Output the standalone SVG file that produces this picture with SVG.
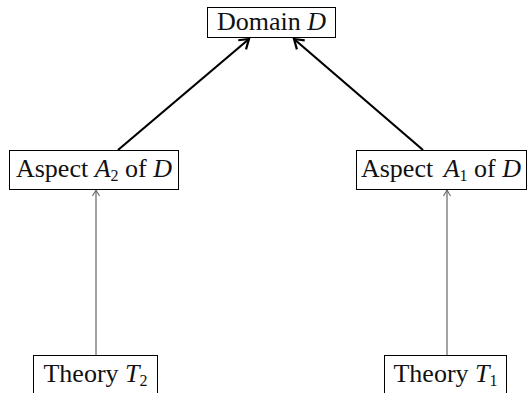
<svg xmlns="http://www.w3.org/2000/svg" width="528" height="393" viewBox="0 0 528 393">
<defs>
<style>
.box{fill:#fff;stroke:#000;stroke-width:1}
.t{font-family:"Liberation Serif","Times New Roman",serif;font-size:26px;fill:#111}
.i{font-style:italic}
.thick{stroke:#000;stroke-width:2.2;fill:none}
.thin{stroke:#666;stroke-width:1.2;fill:none}
</style>
<marker id="ah" markerUnits="userSpaceOnUse" markerWidth="16" markerHeight="16" refX="12" refY="8" orient="auto" viewBox="0 0 16 16">
<path d="M3,2 L12,8 L3,14" fill="none" stroke="#000" stroke-width="2.2"/>
</marker>
<marker id="ahs" markerUnits="userSpaceOnUse" markerWidth="10" markerHeight="10" refX="8" refY="5" orient="auto" viewBox="0 0 10 10">
<path d="M2,1.5 L8,5 L2,8.5" fill="none" stroke="#666" stroke-width="1.1"/>
</marker>
</defs>
<g id="connectors">
<line class="thick" x1="118" y1="150" x2="249" y2="39" marker-end="url(#ah)"/>
<line class="thick" x1="423" y1="150" x2="294" y2="39" marker-end="url(#ah)"/>
<line class="thin" x1="96" y1="355" x2="96" y2="190" marker-end="url(#ahs)"/>
<line class="thin" x1="447" y1="355" x2="447" y2="190" marker-end="url(#ahs)"/>
</g>
<g id="domain">
<rect class="box" x="207.5" y="7.5" width="128" height="30"/>
<text class="t" x="271.5" y="30" text-anchor="middle">Domain <tspan class="i">D</tspan></text>
</g>
<g id="aspectA2">
<rect class="box" x="9.5" y="150.5" width="169" height="39"/>
<text class="t" x="94" y="177" text-anchor="middle">Aspect <tspan class="i">A</tspan><tspan font-size="16" dy="4">2</tspan><tspan dy="-4"> of </tspan><tspan class="i">D</tspan></text>
</g>
<g id="aspectA1">
<rect class="box" x="356.5" y="150.5" width="170" height="39"/>
<text class="t" x="441" y="177" text-anchor="middle">Aspect <tspan class="i" dx="4">A</tspan><tspan font-size="16" dy="4">1</tspan><tspan dy="-4"> of </tspan><tspan class="i">D</tspan></text>
</g>
<g id="theoryT2">
<rect class="box" x="33.5" y="355.5" width="124" height="42"/>
<text class="t" x="95.5" y="382" text-anchor="middle">Theory <tspan class="i">T</tspan><tspan font-size="16" dy="4">2</tspan></text>
</g>
<g id="theoryT1">
<rect class="box" x="384.5" y="355.5" width="122" height="42"/>
<text class="t" x="445.5" y="382" text-anchor="middle">Theory <tspan class="i">T</tspan><tspan font-size="16" dy="4">1</tspan></text>
</g>
</svg>
